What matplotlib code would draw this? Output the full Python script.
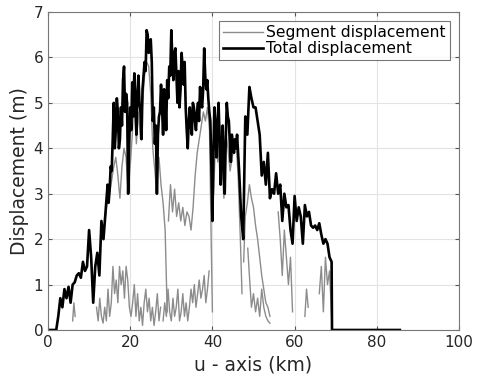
import numpy as np
import matplotlib
matplotlib.use('Agg')
import matplotlib.pyplot as plt

# total displacement, sampled every 0.5 km from 0 to 69 km
total_x = np.arange(0, 69.5, 0.5)
total_y = [0, 0, 0, 0, 0, 0.3, 0.7, 0.5, 0.9, 0.7,
           0.95, 0.6, 1.0, 1.05, 1.2, 1.25, 1.15, 1.5, 1.3, 1.4,
           2.2, 1.6, 0.6, 1.4, 1.7, 1.2, 2.4, 2.0, 2.6, 3.2,
           3.1, 3.5, 5.0, 4.4, 4.8, 4.2, 4.5, 5.8, 5.2, 3.0,
           4.9, 5.45, 5.65, 4.3, 5.6, 4.8, 5.3, 5.9, 6.6, 6.1,
           6.4, 4.6, 4.1, 3.0, 4.7, 5.4, 4.3, 5.2, 5.5, 5.8,
           6.6, 5.5, 6.2, 5.0, 4.9, 6.1, 5.4, 4.9, 4.0, 4.9,
           4.3, 4.9, 4.4, 5.0, 5.35, 4.9, 6.2, 5.3, 5.1, 4.6,
           2.4, 4.9, 3.8, 5.0, 3.2, 4.5, 3.0, 5.0, 4.6, 3.7,
           4.1, 4.2, 4.3, 3.5, 2.5, 2.0, 4.7, 4.3, 5.35, 5.1,
           4.9, 4.9, 4.6, 4.3, 3.4, 3.7, 3.2, 3.9, 2.9, 3.1,
           3.0, 3.45, 3.0, 3.2, 2.4, 3.0, 2.7, 2.75, 2.2, 1.9,
           2.95, 2.4, 2.7, 2.5, 1.9, 2.75, 2.5, 2.6, 2.3, 2.25,
           2.3, 2.2, 2.35, 2.1, 1.9, 2.0, 1.9, 1.6, 1.5]
# extra readings between the 0.5 km samples in the spiky middle part
mid_x = np.arange(14.25, 46.0, 0.5)
mid_y = [2.9, 2.8, 3.6, 4.2, 4.0, 5.1, 4.0, 4.9, 5.5, 4.8,
         5.0, 4.1, 4.4, 4.7, 5.0, 5.2, 5.0, 4.2, 5.6, 5.7,
         6.5, 6.2, 5.9, 4.9, 4.5, 4.3, 4.8, 4.9, 5.3, 4.4,
         5.1, 5.6, 6.0, 6.1, 5.6, 5.7, 5.3, 5.8, 5.9, 4.4,
         4.6, 4.5, 5.0, 4.6, 4.8, 4.6, 5.0, 5.3, 5.6, 5.5,
         4.8, 3.6, 3.9, 4.4, 4.6, 4.2, 4.0, 3.5, 4.2, 4.7,
         4.1, 4.3, 3.9, 4.0]
tail_x = [69.1, 85.6]
tail_y = [0, 0]

# segment displacement pieces (gaps between them)
seg1_x = [14, 14.5, 15, 15.5, 16, 16.5, 17, 17.5, 18, 18.5, 19, 19.5, 20,
          20.5, 21, 21.5, 22, 22.5, 23, 23.5, 24, 24.5, 25, 25.5, 26, 26.5,
          27, 27.5, 28, 28.5, 29]
seg1_y = [2.5, 2.9, 3.0, 3.3, 3.6, 3.8, 3.4, 2.9, 3.6, 4.0, 3.8, 3.0, 3.6,
          4.3, 5.2, 4.1, 4.8, 4.2, 5.0, 5.6, 5.9, 5.8, 5.2, 4.0, 3.5, 3.0,
          3.8, 3.2, 2.8, 2.2, 0.4]
seg2_x = [29.3, 29.8, 30.3, 30.8, 31.3, 31.8, 32.3, 32.8, 33.3, 33.8, 34.3,
          34.8, 35.3, 35.8, 36.3, 36.8, 37.3, 37.8, 38.3, 38.8, 39.3, 39.7, 40.0]
seg2_y = [2.4, 3.2, 2.6, 3.1, 2.5, 2.8, 2.4, 2.7, 2.3, 2.6, 2.5,
          2.2, 2.7, 3.4, 3.9, 4.2, 4.5, 4.8, 4.6, 4.9, 4.4, 2.0, 0.4]
seg3_x = [40.3, 40.8, 41.3, 41.8, 42.3, 42.8, 43.3, 43.8, 44.3, 44.8, 45.3,
          45.8, 46.3, 46.8, 47.2]
seg3_y = [3.0, 4.3, 3.7, 4.5, 3.6, 2.9, 4.3, 4.0, 3.5, 3.8, 4.0,
          4.1, 3.3, 2.0, 0.8]
seg4_x = [47.6, 48.0, 48.5, 49.0, 49.5, 50.0, 50.5, 51.0, 51.5, 52.0, 52.5,
          53.0, 53.5, 54.0]
seg4_y = [1.5, 2.5, 2.8, 3.2, 2.9, 2.7, 2.3, 2.0, 1.6, 1.2, 0.9,
          0.6, 0.5, 0.3]
seg5_x = [48.6, 49.0, 49.5, 50.0, 50.5, 51.0, 51.5, 52.0, 52.5, 53.0, 53.5, 54.0]
seg5_y = [1.8, 1.2, 0.5, 0.8, 0.4, 0.7, 0.3, 0.9, 0.5, 0.3, 0.2, 0.15]
seg6_x = [56.0, 56.5, 57.0, 57.5, 58.0, 58.5, 59.0, 59.5]
seg6_y = [2.6, 2.0, 1.2, 2.2, 1.6, 1.0, 1.6, 0.4]
seg7_x = [66.0, 66.5, 67.0, 67.5, 68.0, 68.5, 69.0]
seg7_y = [0.8, 1.4, 0.4, 1.6, 1.0, 1.3, 0.3]
low1_x = [11.8, 12.2, 12.6, 13.0, 13.4, 13.8, 14.2, 14.6, 15.0, 15.4, 15.8,
          16.2, 16.6, 17.0, 17.4, 17.8, 18.2, 18.6, 19.0, 19.4, 19.8, 20.2,
          20.6, 21.0, 21.4, 21.8, 22.2, 22.6, 23.0, 23.4, 23.8, 24.2, 24.6,
          25.0, 25.4, 25.8, 26.2, 26.6, 27.0, 27.4]
low1_y = [0.5, 0.2, 0.7, 0.3, 0.15, 0.5, 0.2, 0.9, 0.3, 0.6, 1.4,
          0.8, 1.1, 0.6, 1.4, 1.0, 1.3, 0.7, 1.4, 1.1, 0.5, 0.3,
          0.6, 1.0, 0.3, 0.8, 0.2, 0.5, 0.1, 0.6, 0.9, 0.4, 0.7,
          0.2, 0.5, 0.1, 0.4, 0.8, 0.2, 0.5]
low2_x = [28.0, 28.4, 28.8, 29.2, 29.6, 30.0, 30.4, 30.8, 31.2, 31.6, 32.0,
          32.4, 32.8, 33.2, 33.6, 34.0, 34.4, 34.8, 35.2, 35.6, 36.0, 36.4,
          36.8, 37.2, 37.6, 38.0, 38.4, 38.8, 39.2]
low2_y = [0.2, 0.6, 0.3, 0.9, 0.4, 0.2, 0.7, 0.3, 0.5, 0.9, 0.2,
          0.4, 0.8, 0.3, 0.6, 0.2, 0.5, 0.9, 0.6, 1.0, 0.5, 0.8,
          1.1, 0.7, 0.9, 1.2, 0.6, 0.9, 1.3]
low3_x = [6.0, 6.3, 6.6]
low3_y = [0.2, 0.6, 0.3]
low4_x = [62.5, 62.9, 63.3]
low4_y = [0.3, 0.9, 0.5]

seg_pieces = [(seg1_x, seg1_y), (seg2_x, seg2_y), (seg3_x, seg3_y),
              (seg4_x, seg4_y), (seg5_x, seg5_y), (seg6_x, seg6_y),
              (seg7_x, seg7_y), (low1_x, low1_y), (low2_x, low2_y),
              (low3_x, low3_y), (low4_x, low4_y)]

x_ticks = [0, 20, 40, 60, 80, 100]
y_ticks = [0, 1, 2, 3, 4, 5, 6, 7]

# merge the regular samples with the in-between readings
bx = np.concatenate([total_x, mid_x, tail_x])
by = np.concatenate([total_y, mid_y, tail_y])
order = np.argsort(bx, kind='stable')
bx, by = bx[order], by[order]

fig = plt.figure(figsize=(4.78, 3.80), dpi=100)
ax = fig.add_axes([0.1004, 0.1316, 0.8599, 0.8368])

gray = '#8c8c8c'
for i, (sx, sy) in enumerate(seg_pieces):
    ax.plot(sx, sy, color=gray, lw=1.0,
            label='Segment displacement' if i == 0 else None)

ax.plot(bx, by, color='black', lw=1.9, label='Total displacement')

ax.set_xlim(0, 100)
ax.set_ylim(0, 7)
ax.set_xticks(x_ticks)
ax.set_yticks(y_ticks)
ax.grid(True, color='#e3e3e3', lw=0.8)
ax.set_axisbelow(True)
ax.tick_params(direction='in', length=3, color='#555555',
               labelsize=11, labelcolor='#262626', top=True, right=True,
               labeltop=False, labelright=False)
for sp in ax.spines.values():
    sp.set_color('#777777')
    sp.set_linewidth(0.8)

ax.set_xlabel('u - axis (km)', fontsize=13.5, color='#262626', labelpad=4)
ax.set_ylabel('Displacement (m)', fontsize=13.5, color='#262626', labelpad=3)

leg = ax.legend(loc='upper right', fontsize=11.2, frameon=True, fancybox=False,
                handlelength=2.6, handletextpad=0.2, borderpad=0.25,
                labelspacing=0.05, borderaxespad=0.6)
leg.get_frame().set_edgecolor('#555555')
leg.get_frame().set_linewidth(0.8)

fig.savefig('out.png', dpi=100)
